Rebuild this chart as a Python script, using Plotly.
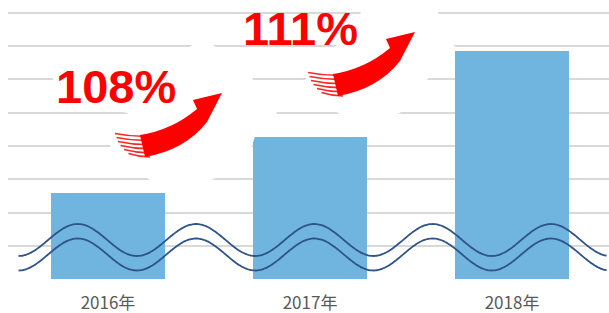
import numpy as np
import plotly.graph_objects as go

# ---- data ----
years = ["2016年", "2017年", "2018年"]
values = [2.58, 4.28, 6.87]
growth_labels = ["108%", "111%"]

# ---- figure geometry ----
W, H = 609, 313
L, R, T, B = 8, 0, 8, 34
PW = W - L - R
PH = H - T - B
X_RANGE = [-0.495, 2.480]
Y_RANGE = [0, 8.15]


def P(px, py):
    """pixel -> paper coordinates"""
    return (px - L) / PW, (H - B - py) / PH


def path(cmds):
    out = []
    for c in cmds:
        if isinstance(c, str):
            out.append(c)
        else:
            x, y = P(*c)
            out.append(f"{x:.5f},{y:.5f}")
    return " ".join(out)


fig = go.Figure()

fig.add_trace(go.Bar(
    x=[0, 1, 2], y=values, width=0.56,
    marker=dict(color="#70B4E0", line=dict(width=0)),
    hoverinfo="skip", showlegend=False,
))

# axis-break wavy double line (decoration)
xs = np.linspace(-0.4426, 2.468, 400)
period = 0.5856
phase = -0.150
for centre in (1.173, 0.737):
    ys = centre + 0.481 * np.cos(2 * np.pi * (xs - phase) / period)
    fig.add_trace(go.Scatter(
        x=xs, y=ys, mode="lines",
        line=dict(color="#2F5487", width=1.8, shape="spline"),
        hoverinfo="skip", showlegend=False,
    ))

shapes = []

# white glows that interrupt the gridlines
glow1 = [(53, 80), (54, 68), (100, 60), (185, 50), (203, 38), (220, 50), (252, 78), (262, 95),
         (277, 113), (266, 128), (255, 136), (252, 146), (235, 165), (212, 180), (180, 190), (150, 180),
         (125, 162), (110, 146), (115, 132), (128, 113), (80, 105), (54, 100)]
glow2 = [(363, 4), (436, 4), (442, 30), (447, 40), (457, 48), (437, 65), (427, 80), (400, 113),
         (370, 123), (338, 113), (315, 97), (305, 80), (318, 63), (335, 47), (350, 30), (360, 15)]
for g in (glow1, glow2):
    cmds = ["M", g[0]]
    for p in g[1:]:
        cmds += ["L", p]
    cmds.append("Z")
    shapes.append(dict(type="path", xref="paper", yref="paper", path=path(cmds),
                       fillcolor="white", line=dict(width=0), layer="above"))

# red curved arrows
for dx, dy in ((0, 0), (193, -61)):
    def o(p):
        return (p[0] + dx, p[1] + dy)
    body = ["M", o((140, 135)), "Q", o((172, 130)), o((197, 109)), "L", o((193, 100)),
            "L", o((222, 93)), "L", o((207, 122)), "Q", o((185, 150)), o((145, 157)), "Z"]
    shapes.append(dict(type="path", xref="paper", yref="paper", path=path(body),
                       fillcolor="#FF0000", line=dict(width=0), layer="above"))
    starts = [(115, 133.5), (116.5, 137.5), (118, 141.5), (120.5, 145.5), (124, 149.5), (128.5, 153.5)]
    for i, s in enumerate(starts):
        e = (150, s[1] + 2.5 + 0.2 * i)
        shapes.append(dict(type="path", xref="paper", yref="paper",
                           path=path(["M", o(s), "Q", o(((s[0] + e[0]) / 2, s[1] + 3.5)), o(e)]),
                           line=dict(color="rgba(255,0,0,0.85)", width=1.6), layer="above"))

fig.update_layout(shapes=shapes)

# growth labels
label_pos = [(116, 86.5), (300, 29)]
for txt, (px, py) in zip(growth_labels, label_pos):
    ax, ay = P(px, py)
    fig.add_annotation(x=ax, y=ay, xref="paper", yref="paper", text=f"<b>{txt}</b>",
                       showarrow=False, xanchor="center", yanchor="middle",
                       font=dict(family="Liberation Sans, Arial", size=47, color="#FF0000"))

fig.update_layout(
    width=W, height=H,
    margin=dict(l=L, r=R, t=T, b=B, pad=0),
    paper_bgcolor="white", plot_bgcolor="white",
    bargap=0,
    xaxis=dict(range=X_RANGE, tickvals=[0, 1, 2], ticktext=years, showgrid=False,
               zeroline=False, showline=False, ticks="", ticklabelstandoff=12,
               tickfont=dict(family="Noto Sans CJK SC", size=17, color="#595959"),
               fixedrange=True),
    yaxis=dict(range=Y_RANGE, dtick=1, showgrid=True, gridcolor="#D9D9D9", gridwidth=2,
               zeroline=False, showline=False, showticklabels=False, ticks="",
               fixedrange=True),
)

fig.write_html(
    "out.html",
    config={"displayModeBar": False},
    post_script="document.body.style.margin='0';document.body.style.overflow='hidden';",
)
